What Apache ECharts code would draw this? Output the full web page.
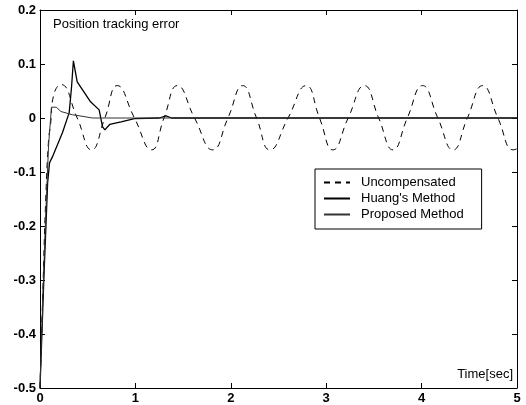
<!DOCTYPE html>
<html>
<head>
<meta charset="utf-8">
<script src="https://cdn.jsdelivr.net/npm/echarts@6/dist/echarts.min.js"></script>
<style>
html,body{margin:0;padding:0;background:#fff;}
#chart{width:526px;height:405px;}
</style>
</head>
<body>
<div id="chart"></div>
<script>
// ---- data ----
var xTicks = [0, 1, 2, 3, 4, 5];
var yTicks = [-0.5, -0.4, -0.3, -0.2, -0.1, 0, 0.1, 0.2];

var uncompT = [0, 0.03, 0.06, 0.09, 0.11, 0.14, 0.22, 0.39, 0.54, 0.68, 0.81, 0.99, 1.17, 1.30, 1.44, 1.62, 1.81, 1.97, 2.125, 2.27, 2.41, 2.60, 2.79, 2.93, 3.07, 3.23, 3.40, 3.55, 3.70, 3.85, 4.01, 4.17, 4.33, 4.48, 4.64, 4.80, 4.96, 5.0];
var uncompV = [-0.5, -0.32, -0.15, -0.04, -0.013, 0.04, 0.062, 0, -0.059, 0, 0.06, 0, -0.059, 0, 0.06, 0, -0.059, 0, 0.06, 0, -0.059, 0, 0.06, 0, -0.059, 0, 0.06, 0, -0.059, 0, 0.06, 0, -0.059, 0, 0.06, 0, -0.059, -0.057];

var huangT = [0, 0.04, 0.08, 0.10, 0.13, 0.236, 0.306, 0.33, 0.35, 0.39, 0.53, 0.62, 0.655, 0.68, 0.73, 0.85, 0.99, 1.25, 1.32, 1.38, 2.0, 3.0, 4.0, 5.0];
var huangV = [-0.5, -0.3, -0.12, -0.083, -0.072, -0.027, 0.01, 0.056, 0.106, 0.067, 0.03, 0.015, -0.016, -0.022, -0.012, -0.007, -0.001, 0.0, 0.004, 0.0, 0.0, 0.0, 0.0, 0.0];

var propT = [0, 0.03, 0.06, 0.09, 0.12, 0.17, 0.22, 0.34, 0.45, 0.55, 0.7, 1.0, 2.0, 3.0, 4.0, 5.0];
var propV = [-0.5, -0.33, -0.18, -0.05, 0.02, 0.02, 0.012, 0.006, 0.003, 0.0, 0.0, 0.0, 0.0, 0.0, 0.0, 0.0];

var seriesNames = ['Uncompensated', "Huang's Method", 'Proposed Method'];
var chartTitle = 'Position tracking error';
var xLabel = 'Time[sec]';

function pairs(t, v) { return t.map(function (x, i) { return [x, v[i]]; }); }

var FONT = '"Liberation Sans", Arial, sans-serif';
var chart = echarts.init(document.getElementById('chart'), null, {renderer: 'canvas'});

function axisCommon(extra) {
  var o = {
    type: 'value',
    axisLine: {show: true, onZero: false, lineStyle: {color: '#000', width: 1}},
    axisTick: {show: true, inside: true, length: 5, lineStyle: {color: '#000'}},
    splitLine: {show: false},
    axisLabel: {show: false}
  };
  for (var k in extra) o[k] = extra[k];
  return o;
}

var option = {
  backgroundColor: '#fff',
  animation: false,
  grid: {left: 40, right: 9, top: 10, bottom: 17, show: false},
  title: [
    {text: chartTitle, left: 53, top: 18, padding: 0,
     textStyle: {fontFamily: FONT, fontSize: 13, fontWeight: 'normal', color: '#000'}},
    {text: xLabel, right: 13, top: 368, padding: 0,
     textStyle: {fontFamily: FONT, fontSize: 13, fontWeight: 'normal', color: '#000'}}
  ],
  legend: {
    orient: 'vertical',
    left: 315, top: 169,
    data: seriesNames,
    itemWidth: 26, itemHeight: 14, itemGap: 3,
    padding: [7, 18, 8, 8],
    borderColor: '#000', borderWidth: 1,
    backgroundColor: '#fff',
    itemStyle: {opacity: 0},
    textStyle: {fontFamily: FONT, fontSize: 13, color: '#000', padding: [0, 0, 0, 6]}
  },
  xAxis: [
    axisCommon({position: 'bottom', min: 0, max: 5, interval: 1,
      axisLabel: {show: true, margin: 4, color: '#000', fontFamily: FONT, fontSize: 13, fontWeight: 'bold'}}),
    axisCommon({position: 'top', min: 0, max: 5, interval: 1})
  ],
  yAxis: [
    axisCommon({position: 'left', min: -0.5, max: 0.2, interval: 0.1,
      axisLabel: {show: true, margin: 4, color: '#000', fontFamily: FONT, fontSize: 13, fontWeight: 'bold',
        formatter: function (v) { return String(Math.round(v * 10) / 10); }}}),
    axisCommon({position: 'right', min: -0.5, max: 0.2, interval: 0.1})
  ],
  series: [
    {name: seriesNames[0], type: 'line', data: pairs(uncompT, uncompV), smooth: 0.5,
     symbol: 'none', lineStyle: {color: '#000', width: 1, type: [6, 5]}, itemStyle: {color: '#000'}, z: 3},
    {name: seriesNames[1], type: 'line', data: pairs(huangT, huangV), smooth: false,
     symbol: 'none', lineStyle: {color: '#000', width: 1.3, type: 'solid'}, itemStyle: {color: '#000'}, z: 4},
    {name: seriesNames[2], type: 'line', data: pairs(propT, propV), smooth: false,
     symbol: 'none', lineStyle: {color: '#333', width: 1, type: 'solid'}, itemStyle: {color: '#333'}, z: 5}
  ]
};
chart.setOption(option);
</script>
</body>
</html>
